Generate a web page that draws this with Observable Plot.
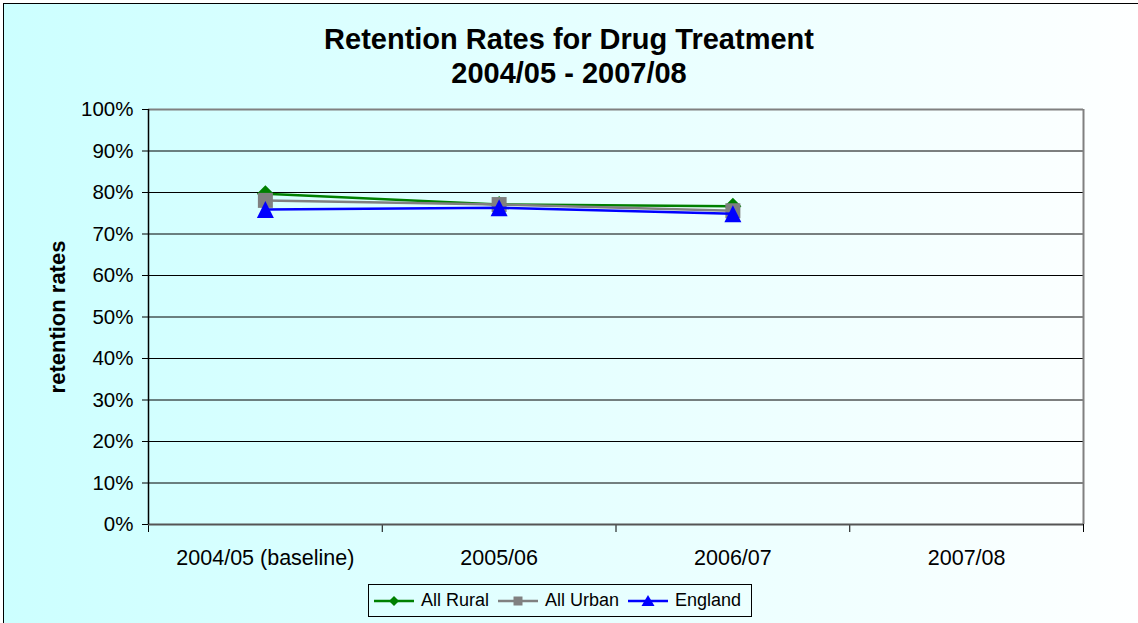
<!DOCTYPE html>
<html>
<head>
<meta charset="utf-8">
<script src="https://cdn.jsdelivr.net/npm/d3@7"></script>
<script src="https://cdn.jsdelivr.net/npm/@observablehq/plot@0.6"></script>
<style>
  html, body { margin: 0; padding: 0; background: #fff; }
  #chart {
    position: relative; width: 1138px; height: 623px; overflow: hidden;
    font-family: "Liberation Sans", Arial, sans-serif; color: #000;
  }
  #panel {
    position: absolute; left: 3px; top: 3px; width: 1160px; height: 640px;
    border-left: 1.5px solid #000; border-top: 1.5px solid #000;
    background: linear-gradient(to right, #ccffff 0%, #ffffff 100%);
  }
  #title {
    position: absolute; left: 0; top: 22px; width: 1138px; text-align: center;
    font-weight: bold; font-size: 29px; line-height: 34px;
  }
  #plot { position: absolute; left: 0; top: 0; }
  #legend {
    position: absolute; left: 368px; top: 584px; width: 382px; height: 31px;
    border: 1px solid #000; background: transparent;
    display: flex; align-items: center; font-size: 18px; box-sizing: content-box;
  }
  #legend .item { display: flex; align-items: center; }
  #legend svg { display: block; }
</style>
</head>
<body>
<div id="chart">
  <div id="panel"></div>
  <div id="title">Retention Rates for Drug Treatment<br>2004/05 - 2007/08</div>
  <div id="plot"></div>
  <div id="legend"></div>
</div>
<script>
// Financial years on the category axis
const categories = ["2004/05 (baseline)", "2005/06", "2006/07", "2007/08"];

// Retention rates (share of people retained in drug treatment); 2007/08 not yet available
const allRural = [0.797, 0.771, 0.767, null];
const allUrban = [0.781, 0.771, 0.756, null];
const england  = [0.759, 0.763, 0.749, null];

const seriesNames = ["All Rural", "All Urban", "England"];
const yTicks = [0, 0.1, 0.2, 0.3, 0.4, 0.5, 0.6, 0.7, 0.8, 0.9, 1.0];
const yLabel = "retention rates";

// Marker shapes drawn around the data point, sized from the dot radius
const diamond = {draw(ctx, size) { const r = Math.sqrt(size / Math.PI);
  ctx.moveTo(0, -r); ctx.lineTo(r, 0); ctx.lineTo(0, r); ctx.lineTo(-r, 0); ctx.closePath(); }};
const square = {draw(ctx, size) { const r = Math.sqrt(size / Math.PI);
  ctx.rect(-r, -r, 2 * r, 2 * r); }};
const triangle = {draw(ctx, size) { const r = Math.sqrt(size / Math.PI);
  ctx.moveTo(0, -r); ctx.lineTo(r, r); ctx.lineTo(-r, r); ctx.closePath(); }};

const styles = [
  {name: seriesNames[0], values: allRural, color: "#008000", symbol: diamond, r: 8.5},
  {name: seriesNames[1], values: allUrban, color: "#808080", symbol: square, r: 7.5},
  {name: seriesNames[2], values: england, color: "#0000ff", symbol: triangle, r: 8.5}
];

// Long table: one row per series and year, placed in the middle of each year's band
const rows = styles.flatMap(s => s.values.map((v, i) => ({series: s.name, xi: i + 0.5, value: v})))
  .filter(d => d.value != null);

const seriesMarks = styles.flatMap(s => {
  const data = rows.filter(d => d.series === s.name);
  return [
    Plot.line(data, {x: "xi", y: "value", stroke: s.color, strokeWidth: 2.5}),
    Plot.dot(data, {x: "xi", y: "value", fill: s.color, symbol: s.symbol, r: s.r})
  ];
});

const bandEdges = d3.range(categories.length + 1);
const fontFamily = '"Liberation Sans", Arial, sans-serif';

const chart = Plot.plot({
  width: 1138,
  height: 623,
  marginTop: 109,
  marginRight: 55,
  marginBottom: 99,
  marginLeft: 148,
  style: {background: "transparent", fontFamily, fontSize: "20.5px", color: "#000", overflow: "visible"},
  x: {type: "linear", domain: [0, categories.length], ticks: bandEdges, tickFormat: () => "", tickSize: 8, label: null},
  y: {domain: [0, 1], ticks: yTicks, tickFormat: d3.format(".0%"), tickSize: 6, tickPadding: 9, label: null},
  marks: [
    Plot.ruleY(yTicks.filter(v => v > 0 && v < 1), {stroke: "#000", strokeWidth: 1}),
    Plot.ruleY([1], {stroke: "#808080", strokeWidth: 2}),
    Plot.ruleX([categories.length], {stroke: "#808080", strokeWidth: 2}),
    Plot.ruleY([0], {stroke: "#555", strokeWidth: 2}),
    Plot.ruleX([0], {stroke: "#000", strokeWidth: 1.5}),
    Plot.text(categories, {x: (d, i) => i + 0.5, y: () => 0, dy: 34, fontSize: 21.5, fill: "#000"}),
    Plot.text([yLabel], {frameAnchor: "left", textAnchor: "middle", rotate: -90, dx: -91, fontWeight: "bold", fontSize: 22, fill: "#000"}),
    ...seriesMarks
  ]
});
document.getElementById("plot").appendChild(chart);

// Legend: line with marker, then the series name
const legend = document.getElementById("legend");
const shapePath = {
  [seriesNames[0]]: "M0,-5L5,0L0,5L-5,0Z",
  [seriesNames[1]]: "M-4.5,-4.5H4.5V4.5H-4.5Z",
  [seriesNames[2]]: "M0,-6L6.5,5H-6.5Z"
};
styles.forEach((s, i) => {
  const item = document.createElement("div");
  item.className = "item";
  item.style.marginLeft = i === 0 ? "5px" : "9px";
  item.innerHTML =
    `<svg width="40" height="20" viewBox="0 0 40 20">
       <line x1="0" x2="40" y1="10" y2="10" stroke="${s.color}" stroke-width="2.5"/>
       <path transform="translate(20,10)" d="${shapePath[s.name]}" fill="${s.color}"/>
     </svg><span style="margin-left:7px">${s.name}</span>`;
  legend.appendChild(item);
});
</script>
</body>
</html>
